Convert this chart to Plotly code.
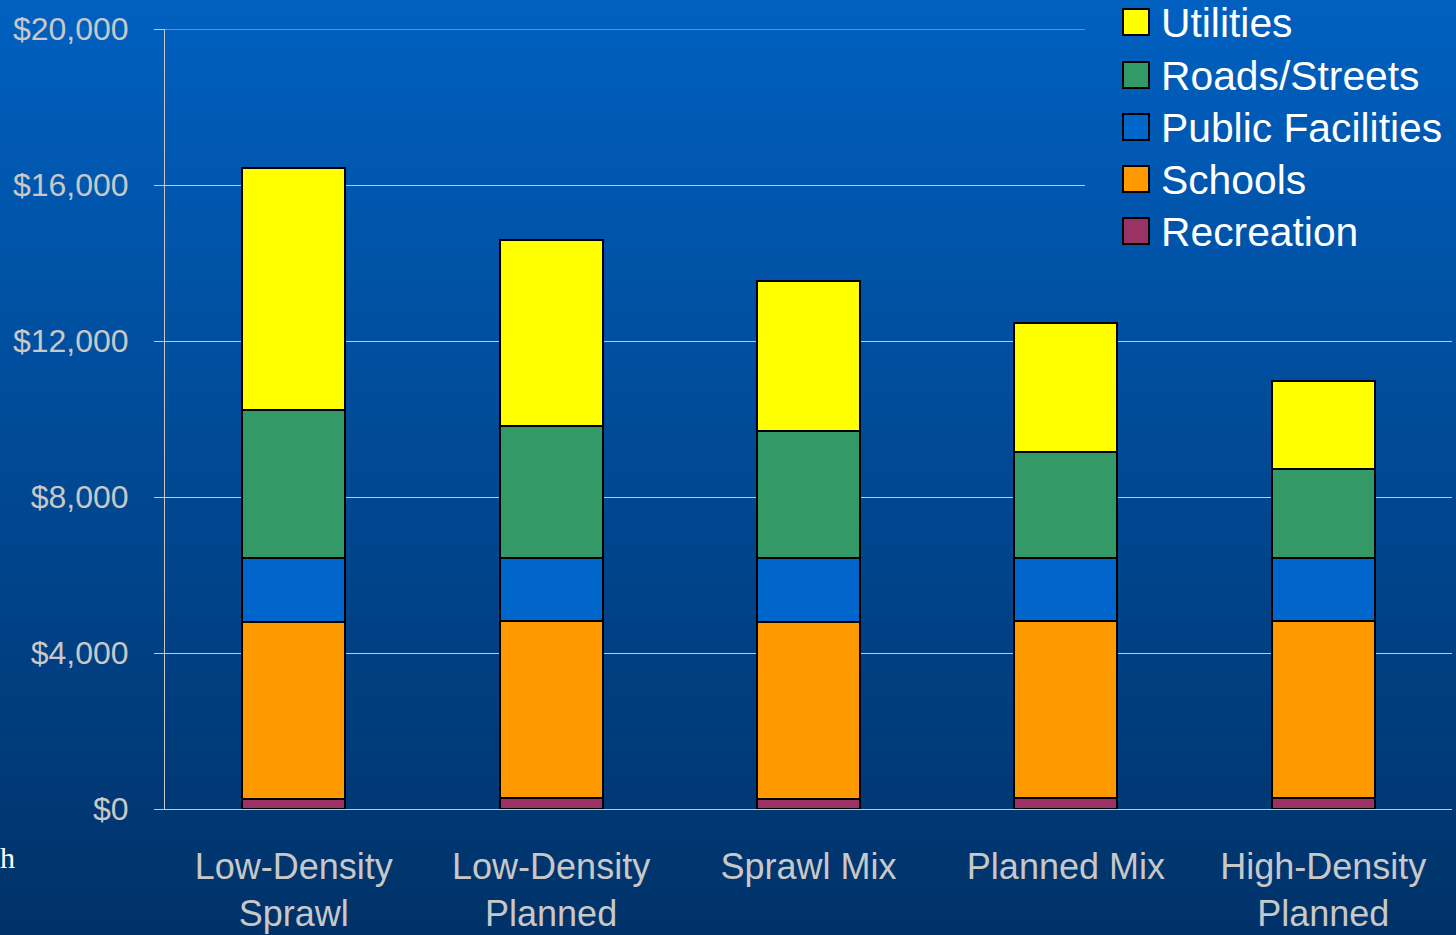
import base64
import plotly.graph_objects as go

# ---------------- data ----------------
categories = ["Low-Density<br>Sprawl", "Low-Density<br>Planned", "Sprawl Mix",
              "Planned Mix", "High-Density<br>Planned"]
recreation = [250, 290, 250, 290, 290]
schools = [4540, 4540, 4540, 4540, 4540]
public_facilities = [1650, 1610, 1650, 1610, 1610]
roads_streets = [3800, 3380, 3250, 2725, 2290]
utilities = [6200, 4775, 3855, 3300, 2257]

series_names = ["Recreation", "Schools", "Public Facilities", "Roads/Streets", "Utilities"]
series_values = [recreation, schools, public_facilities, roads_streets, utilities]
series_colors = ["#993366", "#FF9900", "#0066CC", "#339966", "#FFFF00"]

y_tick_vals = [0, 4000, 8000, 12000, 16000, 20000]
y_tick_text = ["$0", "$4,000", "$8,000", "$12,000", "$16,000", "$20,000"]
y_max = 20000

# ---------------- geometry ----------------
W, H = 1456, 935
L, R, T, B = 165, 4, 29, 126
PW, PH = W - L - R, H - T - B


def px(x):
    return (x - L) / PW


def py(y):
    return (H - B - y) / PH


TOP = "#0060C0"
BOT = "#003268"


def grad_svg(rect=None):
    x0, y0, w, h = rect if rect else (0, 0, W, H)
    svg = (f'<svg xmlns="http://www.w3.org/2000/svg" width="{W}" height="{H}" '
           f'viewBox="0 0 {W} {H}" preserveAspectRatio="none">'
           f'<defs><linearGradient id="g" gradientUnits="userSpaceOnUse" x1="0" y1="0" x2="0" y2="{H}">'
           f'<stop offset="0" stop-color="{TOP}"/><stop offset="1" stop-color="{BOT}"/>'
           f'</linearGradient></defs>'
           f'<rect x="{x0}" y="{y0}" width="{w}" height="{h}" fill="url(#g)"/></svg>')
    return "data:image/svg+xml;base64," + base64.b64encode(svg.encode()).decode()


fig = go.Figure()
for name, vals, col in zip(series_names, series_values, series_colors):
    fig.add_trace(go.Bar(x=categories, y=vals, name=name, marker_color=col,
                         marker_line_color="#000000", marker_line_width=2,
                         showlegend=False, hoverinfo="x+y+name"))

images = [
    dict(source=grad_svg(), xref="paper", yref="paper", x=px(0), y=py(0),
         sizex=W / PW, sizey=H / PH, xanchor="left", yanchor="top",
         sizing="stretch", layer="below"),
    dict(source=grad_svg((1085, 0, W - 1085, 256)), xref="paper", yref="paper",
         x=px(0), y=py(0), sizex=W / PW, sizey=H / PH, xanchor="left",
         yanchor="top", sizing="stretch", layer="above"),
]

grid_col = "#C8C8C8"
label_col = "#C8C8C8"

# top gridline (plotly drops gridlines lying on the plot edge)
shapes = [dict(type="line", xref="paper", yref="y", x0=0, x1=1, y0=y_max, y1=y_max,
               layer="below", line=dict(color=grid_col, width=1))]
annotations = []

# manual legend (top to bottom: Utilities ... Recreation)
row_y = [22, 75, 127, 179, 231]
for i, (name, col) in enumerate(zip(series_names[::-1], series_colors[::-1])):
    cy = row_y[i]
    shapes.append(dict(type="rect", xref="paper", yref="paper", layer="above",
                       x0=px(1123), x1=px(1149), y0=py(cy - 13), y1=py(cy + 13),
                       fillcolor=col, line=dict(color="#000000", width=2)))
    annotations.append(dict(text=name, xref="paper", yref="paper", x=px(1159),
                            y=py(cy + 1), xanchor="left", yanchor="middle",
                            showarrow=False,
                            font=dict(family="Liberation Sans, Arial", size=40.8,
                                      color="#FFFFFF")))

annotations.append(dict(text="h", xref="paper", yref="paper", x=px(-2), y=py(857),
                        xanchor="left", yanchor="middle", showarrow=False,
                        font=dict(family="Liberation Serif, Times New Roman",
                                  size=30, color="#FFFFFF")))

fig.update_layout(
    width=W, height=H,
    margin=dict(l=L, r=R, t=T, b=B, pad=0, autoexpand=False),
    paper_bgcolor=BOT,
    plot_bgcolor="rgba(0,0,0,0)",
    barmode="stack",
    bargap=0.6,
    showlegend=False,
    images=images,
    shapes=shapes,
    annotations=annotations,
    font=dict(family="Liberation Sans, Arial", color=label_col),
    xaxis=dict(showgrid=False, showline=True, linecolor=grid_col, linewidth=1,
               ticks="", tickfont=dict(size=36, color=label_col),
               ticklabelstandoff=26, zeroline=False, automargin=False),
    yaxis=dict(range=[0, y_max], tickvals=y_tick_vals, ticktext=y_tick_text,
               showgrid=True, gridcolor=grid_col, gridwidth=1,
               showline=True, linecolor=grid_col, linewidth=1,
               ticks="outside", ticklen=10, tickcolor=grid_col, tickwidth=1,
               tickfont=dict(size=32, color=label_col),
               ticklabelstandoff=19, zeroline=False, automargin=False),
)

fig.write_html("out.html")
